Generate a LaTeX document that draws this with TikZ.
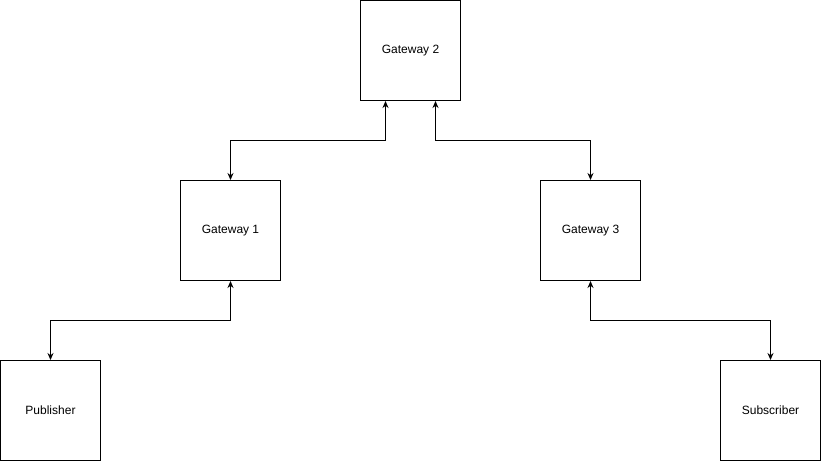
\documentclass[tikz,border=0pt]{standalone}
\usepackage{fontspec}
\setmainfont{Liberation Sans}
\usetikzlibrary{calc, arrows.meta}
\tikzset{>={Stealth[length=7pt,width=6pt]}}
\tikzset{
    gate/.style={draw, line width=1pt, minimum width=100pt, minimum height=100pt, inner sep=0pt, font=\fontsize{12pt}{14pt}\selectfont},
    link/.style={<->, line width=1pt}
}

\begin{document}
\begin{tikzpicture}[x=1pt, y=-1pt]
    \useasboundingbox (0,0) rectangle (821,461);

    %the boxes
    \node[gate] (g2) at (410.5,50.5) {Gateway 2};
    \node[gate] (g1) at (230.5,230.5) {Gateway 1};
    \node[gate] (g3) at (590.5,230.5) {Gateway 3};
    \node[gate] (pub) at (50.5,410.5) {Publisher};
    \node[gate] (sub) at (770.5,410.5) {Subscriber};

    %elbow links
    \draw[link] ([xshift=-25pt]g2.south) |- ($(g1.north)+(0,40pt)$) -- (g1.north);
    \draw[link] ([xshift=25pt]g2.south) |- ($(g3.north)+(0,40pt)$) -- (g3.north);
    \draw[link] (g1.south) |- ($(pub.north)+(0,40pt)$) -- (pub.north);
    \draw[link] (g3.south) |- ($(sub.north)+(0,40pt)$) -- (sub.north);
\end{tikzpicture}
\end{document}
